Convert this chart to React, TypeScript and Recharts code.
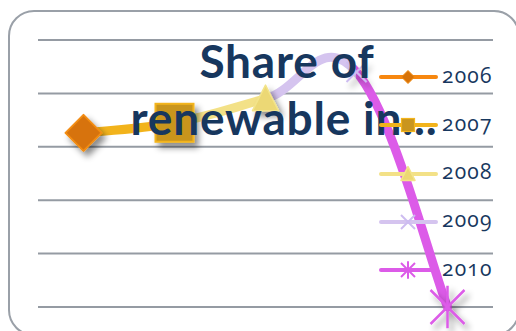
import React from "react";
import { CartesianGrid, Line, LineChart, XAxis, YAxis } from "recharts";

const years = ["2006", "2007", "2008", "2009", "2010"];
const share = [16.3, 17.25, 19.5, 22.0, 0];
const yTicks = [0, 5, 10, 15, 20, 25];

const lineColors = ["#f7870f", "#f2b31b", "#f3e187", "#d5c4ef", "#dc5be8"];
const markerFill = ["#d77309", "#c9951f", "#ecd874", "#cdbcf0", "#dc5be8"];
const markerEdge = ["#f28c12", "#f3b41c", "#f3e48a", "#cdbcf0", "#dc5be8"];

const data = years.map((year, i) => ({ year, share: share[i] }));

const NAVY = "#17375e";

// Excel-style smoothing: cubic bezier through each point, handles from neighbours
function smoothCurve(context: any) {
  let pts: [number, number][] = [];
  const k = 0.2;
  return {
    areaStart() {},
    areaEnd() {},
    lineStart() {
      pts = [];
    },
    point(x: number, y: number) {
      pts.push([+x, +y]);
    },
    lineEnd() {
      if (!pts.length) return;
      context.moveTo(pts[0][0], pts[0][1]);
      for (let i = 0; i < pts.length - 1; i++) {
        const p0 = pts[i - 1] ?? pts[i];
        const p1 = pts[i];
        const p2 = pts[i + 1];
        const p3 = pts[i + 2] ?? p2;
        context.bezierCurveTo(
          p1[0] + (p2[0] - p0[0]) * k,
          p1[1] + (p2[1] - p0[1]) * k,
          p2[0] - (p3[0] - p1[0]) * k,
          p2[1] - (p3[1] - p1[1]) * k,
          p2[0],
          p2[1]
        );
      }
    },
  };
}

// half-sizes of each marker: [plot, legend]
const markerSize = [
  [18, 6.5],
  [19, 6.5],
  [13, 7],
  [10, 7],
  [17, 7],
];

function Marker({ i, cx, cy, small = false }: { i: number; cx: number; cy: number; small?: boolean }) {
  const fill = markerFill[i];
  const edge = markerEdge[i];
  const r = markerSize[i][small ? 1 : 0];
  if (i === 0) {
    return (
      <polygon
        points={`${cx},${cy - r} ${cx + r},${cy} ${cx},${cy + r} ${cx - r},${cy}`}
        fill={fill}
        stroke={edge}
        strokeWidth={small ? 1 : 2}
        strokeLinejoin="round"
      />
    );
  }
  if (i === 1) {
    return <rect x={cx - r} y={cy - r} width={r * 2} height={r * 2} fill={fill} stroke={edge} strokeWidth={small ? 1.2 : 2} />;
  }
  if (i === 2) {
    const h = r * 1.05;
    return (
      <polygon
        points={`${cx},${cy - h} ${cx + r},${cy + r * 0.92} ${cx - r},${cy + r * 0.92}`}
        fill={fill}
        stroke={edge}
        strokeWidth={1.5}
        strokeLinejoin="round"
      />
    );
  }
  if (i === 3) {
    return (
      <g stroke={fill} strokeWidth={2}>
        <line x1={cx - r} y1={cy - r} x2={cx + r} y2={cy + r} />
        <line x1={cx - r} y1={cy + r} x2={cx + r} y2={cy - r} />
      </g>
    );
  }
  const v = r * 1.25;
  return (
    <g stroke={fill} strokeWidth={small ? 2 : 2.5}>
      <line x1={cx - r} y1={cy - r} x2={cx + r} y2={cy + r} />
      <line x1={cx - r} y1={cy + r} x2={cx + r} y2={cy - r} />
      <line x1={cx} y1={cy - v} x2={cx} y2={cy + v} />
    </g>
  );
}

function renderDot(props: any) {
  const { cx, cy, index } = props;
  return (
    <g key={`dot-${index}`} filter="url(#markShade)">
      <Marker i={index} cx={cx} cy={cy} />
    </g>
  );
}

// one hard colour band per segment, taking the colour of the year it ends on
const segStops = years.slice(1).flatMap((_, i) => {
  const n = years.length - 1;
  return [
    { off: i / n, color: lineColors[i + 1] },
    { off: (i + 1) / n, color: lineColors[i + 1] },
  ];
});

const legendTop = 77;
const legendGap = 48.3;

const titleLine: React.CSSProperties = {
  position: "absolute",
  left: 0,
  width: 574,
  textAlign: "center",
  fontFamily: "Lato, sans-serif",
  fontWeight: 700,
  fontSize: 46,
  lineHeight: "57px",
  letterSpacing: 0.8,
  color: NAVY,
  whiteSpace: "nowrap",
};

export default function App() {
  return (
    <div
      style={{
        position: "fixed",
        left: 0,
        top: 0,
        width: 516,
        height: 331,
        overflow: "hidden",
        background: "#ffffff",
      }}
    >
      <div
        style={{
          position: "absolute",
          left: 8,
          top: 10,
          width: 512,
          height: 326,
          border: "2px solid #9aa0a8",
          borderRadius: 26,
          boxSizing: "border-box",
        }}
      />
      <svg width={0} height={0} style={{ position: "absolute" }}>
        <defs>
          <linearGradient id="segs" x1="0" y1="0" x2="1" y2="0">
            {segStops.map((s, i) => (
              <stop key={i} offset={s.off} stopColor={s.color} />
            ))}
          </linearGradient>
          <filter id="markShade" x="-50%" y="-50%" width="220%" height="220%">
            <feDropShadow dx={4} dy={5} stdDeviation={3} floodColor="#000" floodOpacity={0.45} />
          </filter>
        </defs>
      </svg>
      <div style={{ position: "absolute", left: 0, top: 0 }}>
        <LineChart width={516} height={331} data={data} margin={{ top: 40, right: 23, bottom: 24, left: 38 }}>
          <CartesianGrid vertical={false} stroke="#959ba3" strokeWidth={2} />
          <XAxis dataKey="year" hide padding={{ left: 45.5, right: 45.5 }} />
          <YAxis hide domain={[0, 25]} ticks={yTicks} />
          <Line
            dataKey="share"
            type={smoothCurve as any}
            stroke="url(#segs)"
            strokeWidth={9}
            strokeLinecap="round"
            dot={renderDot}
            activeDot={false}
            isAnimationActive={false}
          />
        </LineChart>
      </div>
      <div style={{ ...titleLine, top: 32 }}>Share of</div>
      <div style={{ ...titleLine, top: 89, left: -3 }}>renewable in...</div>
      {years.map((year, i) => {
        const c = legendTop + i * legendGap;
        return (
          <React.Fragment key={year}>
            <svg width={70} height={40} style={{ position: "absolute", left: 373, top: c - 20 }}>
              <line x1={8} y1={20} x2={63} y2={20} stroke={lineColors[i]} strokeWidth={4} strokeLinecap="round" />
              <Marker i={i} cx={35} cy={20} small />
            </svg>
            <div
              style={{
                position: "absolute",
                left: 442,
                top: c - 12.5,
                fontFamily: "'Open Sans', sans-serif",
                fontSize: 21,
                lineHeight: "21px",
                color: NAVY,
                fontVariantNumeric: "oldstyle-nums",
                fontFeatureSettings: "'onum' 1",
                letterSpacing: 1.2,
              }}
            >
              {year}
            </div>
          </React.Fragment>
        );
      })}
    </div>
  );
}
